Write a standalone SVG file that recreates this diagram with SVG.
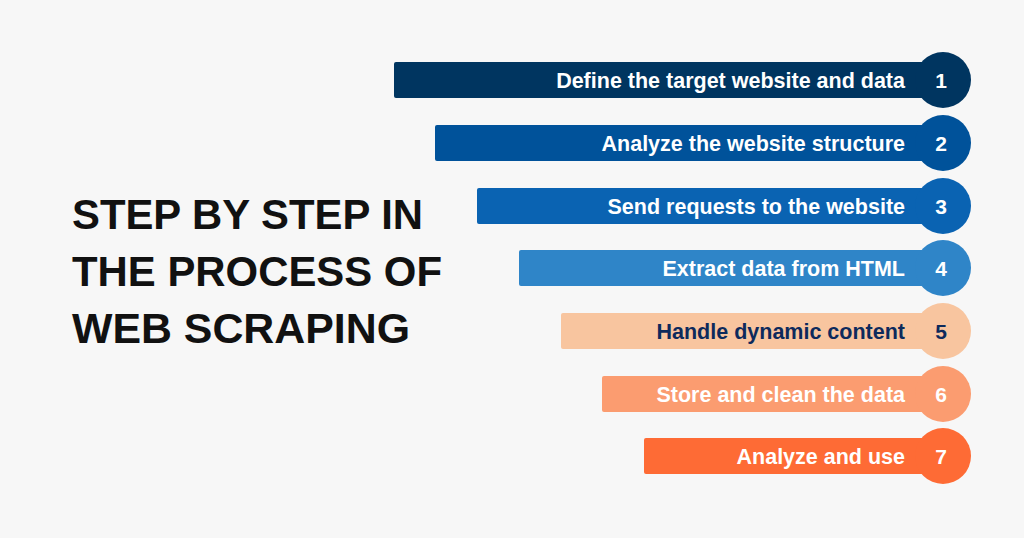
<svg xmlns="http://www.w3.org/2000/svg" width="1024" height="538" viewBox="0 0 1024 538">
<style>
.t{font-family:"Liberation Sans",Arial,sans-serif;font-weight:bold;font-size:21.5px;text-anchor:end;fill:#fff}
.n{font-family:"Liberation Sans",Arial,sans-serif;font-weight:bold;font-size:21px;text-anchor:middle;fill:#fff}
.h{font-family:"Liberation Sans",Arial,sans-serif;font-weight:bold;font-size:42px;fill:#111}
</style>
<rect width="1024" height="538" fill="#f7f7f7"/>
<g id="title">
<text class="h" x="72" y="229" textLength="351" lengthAdjust="spacingAndGlyphs">STEP BY STEP IN</text>
<text class="h" x="72" y="286" textLength="370" lengthAdjust="spacingAndGlyphs">THE PROCESS OF</text>
<text class="h" x="72" y="343" textLength="338" lengthAdjust="spacingAndGlyphs">WEB SCRAPING</text>
</g>
<g id="step1" fill="#003560"><rect x="394" y="62" width="550" height="36" rx="2"/><circle cx="943" cy="80" r="28"/><text class="t" x="905" y="88">Define the target website and data</text><text class="n" x="941" y="88">1</text></g>
<g id="step2" fill="#00529a"><rect x="435" y="125" width="509" height="36" rx="2"/><circle cx="943" cy="143" r="28"/><text class="t" x="905" y="151">Analyze the website structure</text><text class="n" x="941" y="151">2</text></g>
<g id="step3" fill="#0a63b2"><rect x="477" y="188" width="467" height="36" rx="2"/><circle cx="943" cy="206" r="28"/><text class="t" x="905" y="214">Send requests to the website</text><text class="n" x="941" y="214">3</text></g>
<g id="step4" fill="#2f85c8"><rect x="519" y="250" width="425" height="36" rx="2"/><circle cx="943" cy="268" r="28"/><text class="t" x="905" y="276">Extract data from HTML</text><text class="n" x="941" y="276">4</text></g>
<g id="step5" fill="#f8c59f"><rect x="561" y="313" width="383" height="36" rx="2"/><circle cx="943" cy="331" r="28"/><text class="t" x="905" y="339" style="fill:#0d2a5c">Handle dynamic content</text><text class="n" x="941" y="339" style="fill:#0d2a5c">5</text></g>
<g id="step6" fill="#fb9c70"><rect x="602" y="376" width="342" height="36" rx="2"/><circle cx="943" cy="394" r="28"/><text class="t" x="905" y="402">Store and clean the data</text><text class="n" x="941" y="402">6</text></g>
<g id="step7" fill="#fe6b35"><rect x="644" y="438" width="300" height="36" rx="2"/><circle cx="943" cy="456" r="28"/><text class="t" x="905" y="464">Analyze and use</text><text class="n" x="941" y="464">7</text></g>
<g id="connectors"/>
</svg>
